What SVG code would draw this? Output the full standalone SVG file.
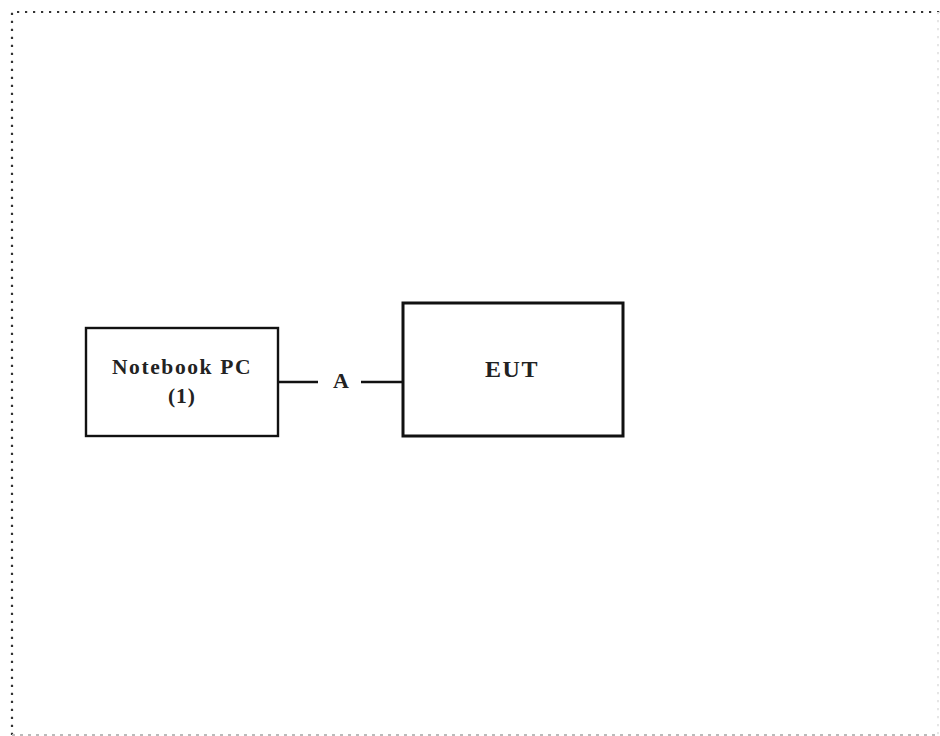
<svg xmlns="http://www.w3.org/2000/svg" width="940" height="736" viewBox="0 0 940 736">
  <style>
    .frame { fill: none; stroke: #333; stroke-width: 2.2; stroke-dasharray: 2.2 5.8; stroke-linecap: butt; }
    .frame-bottom { fill: none; stroke: #bbb; stroke-width: 2; stroke-dasharray: 3 5; }
    .frame-right { fill: none; stroke: #e6e6e6; stroke-width: 2; stroke-dasharray: 2.2 5.8; }
    .box { fill: #fff; stroke: #111; }
    .wire { stroke: #111; stroke-width: 2.5; fill: none; }
    .label { font-family: "Liberation Serif", "Times New Roman", serif; font-weight: bold; fill: #222; text-anchor: middle; }
  </style>

  <rect x="0" y="0" width="940" height="736" fill="#fff"/>

  <!-- dotted outline of the setup area -->
  <path class="frame" d="M12,735 L12,12 L940,12"/>
  <path class="frame-right" d="M938,12 L938,735"/>
  <path class="frame-bottom" d="M12,735 L940,735"/>

  <!-- connectors -->
  <g id="connectors">
    <line class="wire" x1="278" y1="382" x2="318" y2="382"/>
    <line class="wire" x1="361" y1="382" x2="403" y2="382"/>
    <text class="label" x="341" y="388" font-size="22">A</text>
  </g>

  <g id="notebook-pc">
    <rect class="box" x="86" y="328" width="192" height="108" stroke-width="2.4"/>
    <text class="label" x="182" y="374" font-size="21.5" letter-spacing="1.6">Notebook PC</text>
    <text class="label" x="182" y="403" font-size="21.5" letter-spacing="1">(1)</text>
  </g>

  <g id="eut">
    <rect class="box" x="403" y="303" width="220" height="133" stroke-width="3"/>
    <text class="label" x="512" y="377" font-size="24" letter-spacing="1.5">EUT</text>
  </g>
</svg>
